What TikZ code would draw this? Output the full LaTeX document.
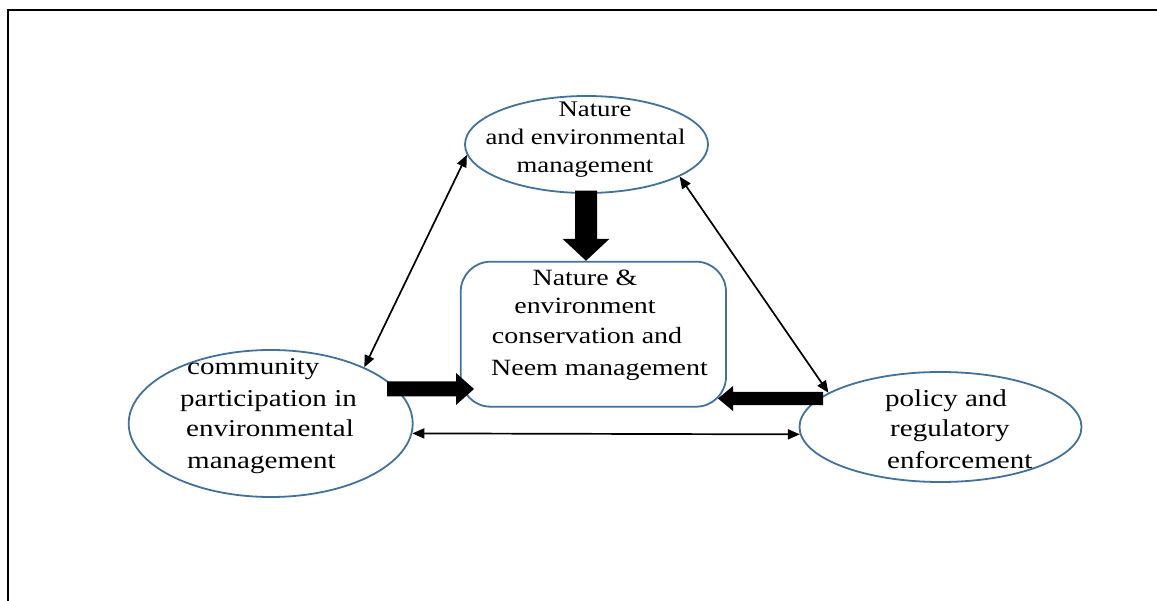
\documentclass[tikz,border=0pt]{standalone}
\usepackage{fontspec}
\setmainfont{Liberation Serif}[FakeStretch=1.2]
\usetikzlibrary{arrows.meta,shapes.geometric,calc}
\definecolor{shapeblue}{HTML}{41719C}
\begin{document}
\begin{tikzpicture}[x=1pt,y=-1pt,
  shapeline/.style={draw=shapeblue, line width=1.8pt},
  oval/.style={shapeline, ellipse, inner sep=0pt},
  roundbox/.style={shapeline, rectangle, rounded corners=30pt, inner sep=0pt},
  ftop/.style={font=\fontsize{22.3}{28}\selectfont},
  fmid/.style={font=\fontsize{23.3}{30}\selectfont},
  fside/.style={font=\fontsize{24.2}{31}\selectfont},
  txt/.style={inner sep=0pt, anchor=base},
  txtw/.style={inner sep=0pt, anchor=base west},
  thinlink/.style={line width=1.7pt, {Triangle[length=12pt,width=10pt]}-{Triangle[length=12pt,width=10pt]}},
  blockfill/.style={fill=black}
]
\useasboundingbox (0,0) rectangle (1157,601);
% frame
\draw[line width=2pt] (1157,10.5) -- (8,10.5) -- (8,601);

% shapes
\node[oval, minimum width=243pt, minimum height=97pt] (nat) at (586.5,144.5) {};
\node[roundbox, minimum width=265.3pt, minimum height=145pt] (box) at (593.35,334.2) {};
\node[oval, minimum width=284pt, minimum height=147pt] (com) at (270.7,423.5) {};
\node[oval, minimum width=282pt, minimum height=110pt] (pol) at (940.5,427) {};

% thin double arrows
\draw[thinlink] (com.31.3) -- (nat.185.5);
\draw[thinlink] (nat.-19) -- (pol.163.9);
\draw[thinlink] (com.-4.2) -- (pol.183.3);

% block arrows
\coordinate (d1) at (586,190.7);
\coordinate (d2) at (d1 |- box.north);
\fill[blockfill] ($(d1)+(-11,0)$) -- ($(d1)+(11,0)$) -- ($(d2)+(11,-22)$) -- ($(d2)+(23.5,-22)$) -- (d2)
  -- ($(d2)+(-23.5,-22)$) -- ($(d2)+(-11,-22)$) -- cycle;

\coordinate (l1) at (387,389);
\coordinate (l2) at (474,389);
\fill[blockfill] ($(l1)+(0,-7.5)$) -- ($(l2)+(-18,-7.5)$) -- ($(l2)+(-18,-16)$) -- (l2)
  -- ($(l2)+(-18,16)$) -- ($(l2)+(-18,7.5)$) -- ($(l1)+(0,7.5)$) -- cycle;

\coordinate (r1) at (823,398.5);
\coordinate (r2) at (718,398.5);
\fill[blockfill] ($(r1)+(0,-6.7)$) -- ($(r2)+(15,-6.7)$) -- ($(r2)+(15,-12.5)$) -- (r2)
  -- ($(r2)+(15,12.5)$) -- ($(r2)+(15,6.7)$) -- ($(r1)+(0,6.7)$) -- cycle;

% texts: top ellipse
\node[txt, ftop] (t1) at (595,116.5) {Nature};
\node[txt, ftop] (t2) at (585.5,145) {and environmental};
\node[txt, ftop] (t3) at (585,173) {management};

% texts: centre box
\node[txt, fmid] (c1) at (585,285.7) {Nature \&};
\node[txt, fmid] (c2) at (585,313.3) {environment};
\node[txtw, fmid] (c3) at (491.7,344) {conservation and};
\node[txtw, fmid] (c4) at (491,375.5) {Neem management};

% texts: left ellipse
\node[txtw, fside] (l1t) at (187,375) {community};
\node[txtw, fside] (l2t) at (180,406.7) {participation in};
\node[txtw, fside] (l3t) at (186,437) {environmental};
\node[txtw, fside] (l4t) at (187,468) {management};

% texts: right ellipse
\node[txtw, fside] (p1) at (885,407) {policy and};
\node[txtw, fside] (p2) at (890,437) {regulatory};
\node[txtw, fside] (p3) at (887,468) {enforcement};
\end{tikzpicture}
\end{document}
